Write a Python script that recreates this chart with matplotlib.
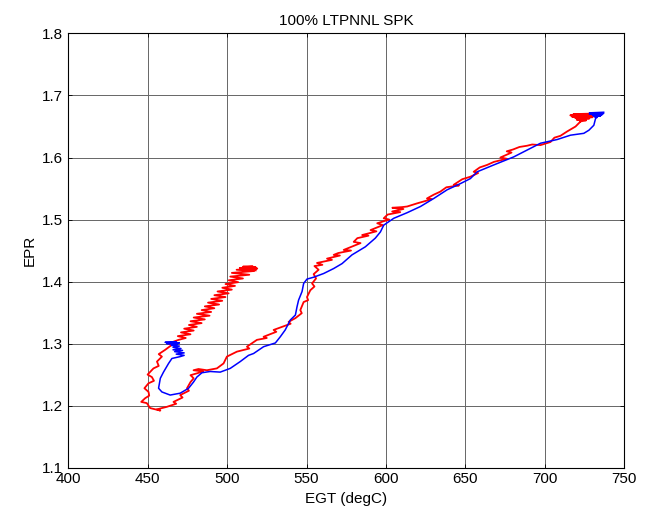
import numpy as np
import matplotlib
matplotlib.use("Agg")
import matplotlib.pyplot as plt

# measured trace (blue), from the top-right end down to the low-speed end
blue_egt = [737, 728, 737, 728, 736, 730, 735, 731, 733, 731.9, 730.8, 727.7, 724.5, 716.1,
            707.7, 697.2, 688.8, 680.4, 667.8, 657.4, 653.1, 646.9, 638.5, 630.1, 621.7,
            613.3, 604.9, 598.6, 596.5, 593.3, 587.0, 578.6, 572.4, 567.1, 560.8, 554.5,
            550.3, 548.2, 547.2, 545.0, 544.0, 543.0, 539.8, 536.6, 533.5, 530.4,
            523.0, 516.7, 513.5, 508.3, 502.0, 495.7, 489.4, 484.2, 481.0, 478.9,
            475.8, 470.5, 464.2, 459.0, 456.9, 458.0, 460.0, 463.2, 465.3, 470.5,
            473, 468, 473, 467, 472, 466, 471, 466, 470, 465, 469, 462, 470, 461, 468, 463]
blue_epr = [1.673, 1.672, 1.671, 1.670, 1.669, 1.668, 1.667, 1.666, 1.665, 1.663, 1.652, 1.644,
            1.639, 1.636, 1.629, 1.623, 1.612, 1.601, 1.588, 1.577, 1.566, 1.558, 1.548, 1.534,
            1.521, 1.511, 1.502, 1.491, 1.480, 1.470, 1.456, 1.443, 1.429, 1.421, 1.413, 1.407,
            1.404, 1.397, 1.384, 1.370, 1.359, 1.346, 1.338, 1.322, 1.311, 1.301,
            1.295, 1.284, 1.281, 1.271, 1.260, 1.254, 1.255, 1.253, 1.246, 1.238,
            1.228, 1.220, 1.217, 1.222, 1.228, 1.244, 1.254, 1.268, 1.276, 1.279,
            1.281, 1.283, 1.285, 1.287, 1.289, 1.290, 1.292, 1.294, 1.296, 1.297, 1.299,
            1.300, 1.301, 1.302, 1.303, 1.301]

# model trace (red), top-right end -> loop -> low-speed band
red_egt = [733, 718, 732, 716, 731, 717, 730, 719, 728, 720, 726, 722,
           722.4, 719.3, 714.0, 709.8, 706, 703.5, 697.2, 692, 688.8, 684, 680, 676, 679,
           672, 676, 668, 663.6, 659, 655.2, 658, 653.1, 648, 642.6, 646, 638, 634.2, 630,
           625.8, 629, 619.5, 613.3, 610, 604, 611, 603.9, 609, 601, 598.6, 602, 594.5,
           598, 590.3, 594, 585.0, 589, 582, 579.7, 584, 573.4, 578, 570, 567.1, 571,
           562.9, 566, 556.6, 560, 555, 557.6, 554.5, 556, 553.5, 555, 552.4, 550.3, 551,
           548.2, 546.1, 547, 543.0, 538.7, 540, 534.6, 529.3, 531, 523.0, 525, 518.8,
           512.5, 514, 506.2, 499.9, 497.8, 493.6, 487.3, 482, 478.9, 485, 477.0, 479,
           477.0, 474.8, 476, 470.5, 472, 466.3, 468, 462.1, 455.9, 458, 451.6, 449.5,
           446, 448.5, 451, 450.6, 448, 450.6, 454, 452.7, 450, 453.7, 457, 455.9, 459.0,
           457, 461.1, 465.3, 463, 469.5,
           474, 469, 477, 471, 479, 473, 481, 476, 484, 477, 486, 479, 489, 481, 490,
           484, 492, 486, 495, 488, 497, 490, 499, 492, 501, 494, 503, 497, 505, 499,
           507, 501, 510, 502, 514, 503, 517, 506, 519, 508, 518, 510, 516, 509, 518]
red_epr = [1.671, 1.670, 1.669, 1.668, 1.667, 1.666, 1.665, 1.664, 1.663, 1.661, 1.660, 1.658,
           1.658, 1.650, 1.642, 1.635, 1.632, 1.625, 1.620, 1.621, 1.619, 1.617, 1.613, 1.610, 1.608,
           1.600, 1.598, 1.593, 1.588, 1.584, 1.577, 1.575, 1.569, 1.565, 1.556, 1.555, 1.552, 1.545, 1.540,
           1.534, 1.533, 1.526, 1.521, 1.520, 1.519, 1.517, 1.513, 1.512, 1.508, 1.502, 1.500, 1.494,
           1.491, 1.483, 1.481, 1.475, 1.474, 1.470, 1.464, 1.462, 1.451, 1.450, 1.446, 1.443, 1.442,
           1.437, 1.435, 1.430, 1.427, 1.425, 1.419, 1.412, 1.405, 1.397, 1.392, 1.386, 1.375, 1.370,
           1.367, 1.354, 1.349, 1.341, 1.335, 1.332, 1.327, 1.322, 1.319, 1.311, 1.309, 1.306,
           1.295, 1.292, 1.287, 1.279, 1.268, 1.260, 1.257, 1.259, 1.257, 1.255, 1.249, 1.244,
           1.238, 1.228, 1.224, 1.217, 1.213, 1.206, 1.203, 1.198, 1.194, 1.192, 1.196, 1.204,
           1.206, 1.212, 1.216, 1.222, 1.228, 1.236, 1.240, 1.246, 1.250, 1.260, 1.264, 1.271, 1.279,
           1.283, 1.290, 1.298, 1.300, 1.306,
           1.309, 1.312, 1.315, 1.318, 1.321, 1.324, 1.327, 1.330, 1.333, 1.336, 1.339, 1.342, 1.345, 1.348, 1.351,
           1.354, 1.357, 1.360, 1.363, 1.366, 1.369, 1.372, 1.375, 1.378, 1.381, 1.384, 1.387, 1.390, 1.393, 1.396,
           1.399, 1.402, 1.405, 1.408, 1.411, 1.414, 1.417, 1.419, 1.421, 1.422, 1.423, 1.424, 1.425, 1.420, 1.418]

plt.rcParams['font.family'] = ['Liberation Sans', 'DejaVu Sans']
plt.rcParams['font.size'] = 11

fig = plt.figure(figsize=(6.49, 5.15), dpi=100)
ax = fig.add_axes([0.105, 0.092, 0.857, 0.843])

ax.plot(red_egt, red_epr, color='r', lw=1.3)
ax.plot(blue_egt, blue_epr, color='b', lw=1.1)

ax.set_xlim(400, 750)
ax.set_ylim(1.1, 1.8)
ax.set_xticks(np.arange(400, 751, 50))
ax.set_yticks(np.arange(1.1, 1.81, 0.1))
ax.set_yticklabels(['1.1', '1.2', '1.3', '1.4', '1.5', '1.6', '1.7', '1.8'])
ax.set_axisbelow(True)
ax.grid(True, color='0.4', linestyle='-', lw=0.7)
ax.tick_params(direction='in', top=True, right=True, length=3, width=0.6)
for s in ax.spines.values():
    s.set_linewidth(0.8)

ax.set_title('100% LTPNNL SPK', fontsize=11)
ax.set_xlabel('EGT (degC)')
ax.set_ylabel('EPR')

fig.savefig('out.png', dpi=100)
